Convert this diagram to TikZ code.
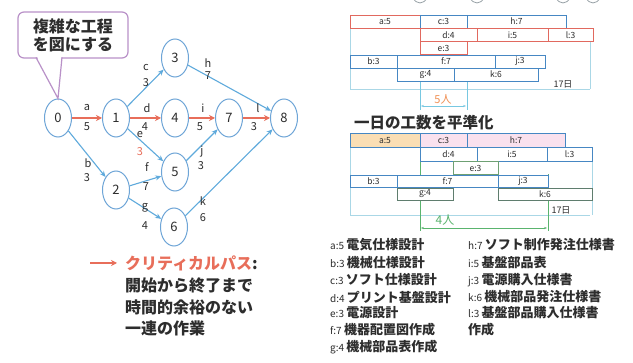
\documentclass[tikz,border=0pt]{standalone}
\usepackage{fontspec}
\setmainfont{Noto Sans CJK JP}
\usetikzlibrary{arrows.meta,shapes.geometric}
\definecolor{nodeblue}{RGB}{110,165,215}
\definecolor{edgeblue}{RGB}{95,170,220}
\definecolor{critred}{RGB}{232,110,90}
\definecolor{txtdark}{RGB}{45,45,45}
\definecolor{calloutcol}{RGB}{185,145,200}
\definecolor{gblue}{RGB}{70,135,195}
\definecolor{gred}{RGB}{225,105,95}
\definecolor{ggreen}{RGB}{110,160,115}
\definecolor{ggray}{RGB}{95,125,110}
\definecolor{lightcyan}{RGB}{170,215,230}
\definecolor{dimcyan}{RGB}{120,200,225}
\definecolor{dimgreen}{RGB}{90,180,110}
\definecolor{orangetxt}{RGB}{240,145,85}
\definecolor{peach}{RGB}{250,222,180}
\definecolor{pinkfill}{RGB}{250,225,238}
\definecolor{arcgray}{RGB}{150,160,165}
\newcommand\gbar[7]{\node[gbox,#6,anchor=north west,minimum width={#4pt-#2pt},minimum height={#5pt-#3pt}] (#1) at (#2,#3) {#7};}
\begin{document}
\begin{tikzpicture}[x=1pt,y=-1pt,
  nd/.style={ellipse,draw=nodeblue,line width=1pt,fill=white,minimum width=27pt,minimum height=38pt,inner sep=0pt,font=\fontsize{13}{13}\selectfont,text=txtdark},
  barrow/.style={draw=edgeblue,line width=1.1pt,-{Stealth[length=6pt,width=5pt]}},
  rarrow/.style={draw=critred,line width=1.8pt,-{Stealth[length=6pt,width=6pt]}},
  elab/.style={font=\fontsize{11}{11}\selectfont,text=txtdark,inner sep=0pt},
  gbox/.style={draw,line width=0.9pt,fill=white,inner sep=0pt,outer sep=0pt,font=\fontsize{8.5}{8.5}\selectfont,text=txtdark},
  leg/.style={anchor=west,inner sep=0pt,text=txtdark,font=\fontsize{13}{13}\selectfont\bfseries},
  big/.style={anchor=west,inner sep=0pt,text=txtdark,font=\fontsize{16}{16}\selectfont\bfseries}]
\useasboundingbox (0,0) rectangle (633,363);
\fill[white] (0,0) rectangle (633,363);
% cut-off circles at the top edge
\begin{scope}
\clip (0,0) rectangle (633,363);
\foreach \cx in {420,477,563,593}{\draw[arcgray,line width=0.8pt] (\cx,-14) ellipse [x radius=10, y radius=17];}
\end{scope}
% ---------- network ----------
\node[nd] (n0) at (58,118) {0};
\node[nd] (n1) at (116,118) {1};
\node[nd] (n3) at (175,58) {3};
\node[nd] (n4) at (175,118) {4};
\node[nd] (n7) at (229,118) {7};
\node[nd] (n8) at (284,118) {8};
\node[nd] (n5) at (175,172) {5};
\node[nd] (n2) at (116,190) {2};
\node[nd] (n6) at (174,227) {6};
\draw[rarrow] (n0) -- (n1);
\draw[rarrow] (n1) -- (n4);
\draw[rarrow] (n4) -- (n7);
\draw[rarrow] (n7) -- (n8);
\draw[barrow] (n1) -- (n3);
\draw[barrow] (n3) -- (n8);
\draw[barrow] (n0) -- (n2);
\draw[barrow] (n1) -- (n5);
\draw[barrow] (n2) -- (n5);
\draw[barrow] (n2) -- (n6);
\draw[barrow] (n5) -- (n7);
\draw[barrow] (n6) -- (n8);
\node[elab] (la) at (87,108) {a};   \node[elab] (la2) at (87,127) {5};
\node[elab] (ld) at (147,108) {d};  \node[elab] (ld2) at (145,127) {4};
\node[elab] (li) at (203,108) {i};  \node[elab] (li2) at (200,127) {5};
\node[elab] (ll) at (258,108) {l};  \node[elab] (ll2) at (254,127) {3};
\node[elab] (lc) at (146,68) {c};   \node[elab] (lc2) at (146,83) {3};
\node[elab] (lh) at (208,63) {h};   \node[elab] (lh2) at (208,76) {7};
\node[elab] (lb) at (88,163) {b};   \node[elab] (lb2) at (87,178) {3};
\node[elab] (le) at (140,135) {e};  \node[elab,text=critred] (le2) at (140,152) {3};
\node[elab] (lf) at (147,167) {f};  \node[elab] (lf2) at (146,187) {7};
\node[elab] (lg) at (145,208) {g};  \node[elab] (lg2) at (145,226) {4};
\node[elab] (lj) at (202,152) {j};  \node[elab] (lj2) at (201,166) {3};
\node[elab] (lk) at (203,201) {k};  \node[elab] (lk2) at (203,218) {6};
% callout
\node[draw=calloutcol,line width=1.2pt,rounded corners=6pt,fill=white,minimum width=110pt,minimum height=46pt,inner sep=2pt,align=center,text=txtdark,font=\fontsize{16}{18}\selectfont\bfseries] (co) at (73,35) {複雑な工程\\を図にする};
\coordinate (tl) at (36,57.4);
\coordinate (tr) at (62,57.4);
\fill[white] (36.8,56) -- (n0.north) -- (61.4,56) -- cycle;
\draw[calloutcol,line width=1.2pt] (tl) -- (n0.north) -- (tr);
% critical path legend
\coordinate (ca) at (90,263);
\coordinate (cb) at (117,263);
\draw[draw=critred,line width=1.6pt,-{Stealth[length=6pt,width=6pt]}] (ca) -- (cb);
\node[big] (cp) at (125,263) {\textcolor{critred}{クリティカルパス}:};
\node[big] (cp1) at (125,286) {開始から終了まで};
\node[big] (cp2) at (125,307) {時間的余裕のない};
\node[big] (cp3) at (125,328) {一連の作業};
% ---------- chart 1 ----------
\draw[lightcyan,line width=0.7pt] (350,15) -- (350,89) -- (590,89);
\draw[lightcyan,line width=0.7pt] (590,28) -- (590,89);
\draw[dimcyan,line width=0.8pt] (420,15) -- (420,110);
\draw[dimcyan,line width=0.8pt] (467,15) -- (467,110);
\gbar{ga}{350}{15}{420}{28}{draw=gred}{a:5}
\gbar{gc}{420}{15}{467}{28}{draw=gblue}{c:3}
\gbar{gh}{467}{15}{566}{28}{draw=gblue}{h:7}
\gbar{gd}{420}{28.5}{477}{41.5}{draw=gred}{d:4}
\gbar{gi}{477}{28.5}{548}{41.5}{draw=gred}{i:5}
\gbar{gl}{548}{28.5}{593}{41.5}{draw=gred}{l:3}
\gbar{ge}{420}{41.5}{467}{54.5}{draw=gred}{e:3}
\gbar{gb}{350}{55}{397}{68}{draw=gblue}{b:3}
\gbar{gf}{397}{55}{495}{68}{draw=gblue}{f:7}
\gbar{gj}{495}{55}{545}{68}{draw=gblue}{j:3}
\gbar{gg}{397}{68}{454}{81}{draw=gblue}{g:4}
\gbar{gk}{454}{68}{538}{81}{draw=gblue}{k:6}
\node[font=\fontsize{9}{9}\selectfont,text=txtdark,inner sep=0pt] (d17a) at (563,84.5) {17日};
\coordinate (p5a) at (421,106);
\coordinate (p5b) at (466,106);
\draw[dimcyan,line width=0.6pt,{Stealth[length=3pt]}-{Stealth[length=3pt]}] (p5a) -- (p5b);
\node[fill=white,inner sep=1pt,text=orangetxt,font=\fontsize{11}{11}\selectfont] (five) at (443,99) {5人};
% ---------- chart 2 ----------
\node[big,font=\fontsize{15.5}{16}\selectfont\bfseries] (t2) at (354,123) {一日の工数を平準化};
\draw[lightcyan,line width=0.7pt] (350,133.5) -- (350,215) -- (590,215);
\draw[lightcyan,line width=0.7pt] (592,147) -- (592,215);
\draw[dimgreen,line width=0.8pt] (420,133.5) -- (420,231);
\draw[dimgreen,line width=0.8pt] (548,174.5) -- (548,231);
\gbar{ha}{350}{133.5}{420}{147}{draw=gblue,fill=peach}{a:5}
\gbar{hc}{420}{133.5}{467}{147}{draw=gblue,fill=pinkfill}{c:3}
\gbar{hh}{467}{133.5}{565}{147}{draw=gblue,fill=pinkfill}{h:7}
\gbar{hd}{420}{147.5}{477}{161}{draw=gblue}{d:4}
\gbar{hi}{477}{147.5}{547}{161}{draw=gblue}{i:5}
\gbar{hl}{547}{147.5}{592}{161}{draw=gblue}{l:3}
\gbar{he}{453}{161.5}{498}{174.5}{draw=ggreen}{e:3}
\gbar{hb}{350}{175}{397}{187.5}{draw=gblue}{b:3}
\gbar{hf}{397}{175}{498}{187.5}{draw=gblue}{f:7}
\gbar{hj}{498}{175}{548}{187.5}{draw=gblue}{j:3}
\gbar{hg}{397}{188}{453}{200}{draw=ggray}{g:4}
\gbar{hk}{498}{188}{592}{200}{draw=ggray}{k:6}
\node[font=\fontsize{9}{9}\selectfont,text=txtdark,inner sep=0pt] (d17b) at (561,210) {17日};
\coordinate (p4a) at (421,228);
\coordinate (p4b) at (547,228);
\draw[dimgreen,line width=0.6pt,{Stealth[length=3pt]}-{Stealth[length=3pt]}] (p4a) -- (p4b);
\node[inner sep=1pt,text=dimgreen,font=\fontsize{12}{12}\selectfont] (four) at (445,220) {4人};
% ---------- task legend ----------
\node[leg] (ka) at (330,245) {\mdseries\fontsize{10}{10}\selectfont a:5 \bfseries\fontsize{13}{13}\selectfont 電気仕様設計};
\node[leg] (kb) at (330,263) {\mdseries\fontsize{10}{10}\selectfont b:3 \bfseries\fontsize{13}{13}\selectfont 機械仕様設計};
\node[leg] (kc) at (330,280) {\mdseries\fontsize{10}{10}\selectfont c:3 \bfseries\fontsize{13}{13}\selectfont ソフト仕様設計};
\node[leg] (kd) at (330,297) {\mdseries\fontsize{10}{10}\selectfont d:4 \bfseries\fontsize{13}{13}\selectfont プリント基盤設計};
\node[leg] (ke) at (330,313) {\mdseries\fontsize{10}{10}\selectfont e:3 \bfseries\fontsize{13}{13}\selectfont 電源設計};
\node[leg] (kf) at (330,330) {\mdseries\fontsize{10}{10}\selectfont f:7 \bfseries\fontsize{13}{13}\selectfont 機器配置図作成};
\node[leg] (kg) at (330,347) {\mdseries\fontsize{10}{10}\selectfont g:4 \bfseries\fontsize{13}{13}\selectfont 機械部品表作成};
\node[leg] (kh) at (468,245) {\mdseries\fontsize{10}{10}\selectfont h:7 \bfseries\fontsize{13}{13}\selectfont ソフト制作発注仕様書};
\node[leg] (ki) at (468,263) {\mdseries\fontsize{10}{10}\selectfont i:5 \bfseries\fontsize{13}{13}\selectfont 基盤部品表};
\node[leg] (kj) at (468,280) {\mdseries\fontsize{10}{10}\selectfont j:3 \bfseries\fontsize{13}{13}\selectfont 電源購入仕様書};
\node[leg] (kk) at (468,297) {\mdseries\fontsize{10}{10}\selectfont k:6 \bfseries\fontsize{13}{13}\selectfont 機械部品発注仕様書};
\node[leg] (kl) at (468,313) {\mdseries\fontsize{10}{10}\selectfont l:3 \bfseries\fontsize{13}{13}\selectfont 基盤部品購入仕様書};
\node[leg] (kl2) at (468,330) {作成};
\end{tikzpicture}
\end{document}
